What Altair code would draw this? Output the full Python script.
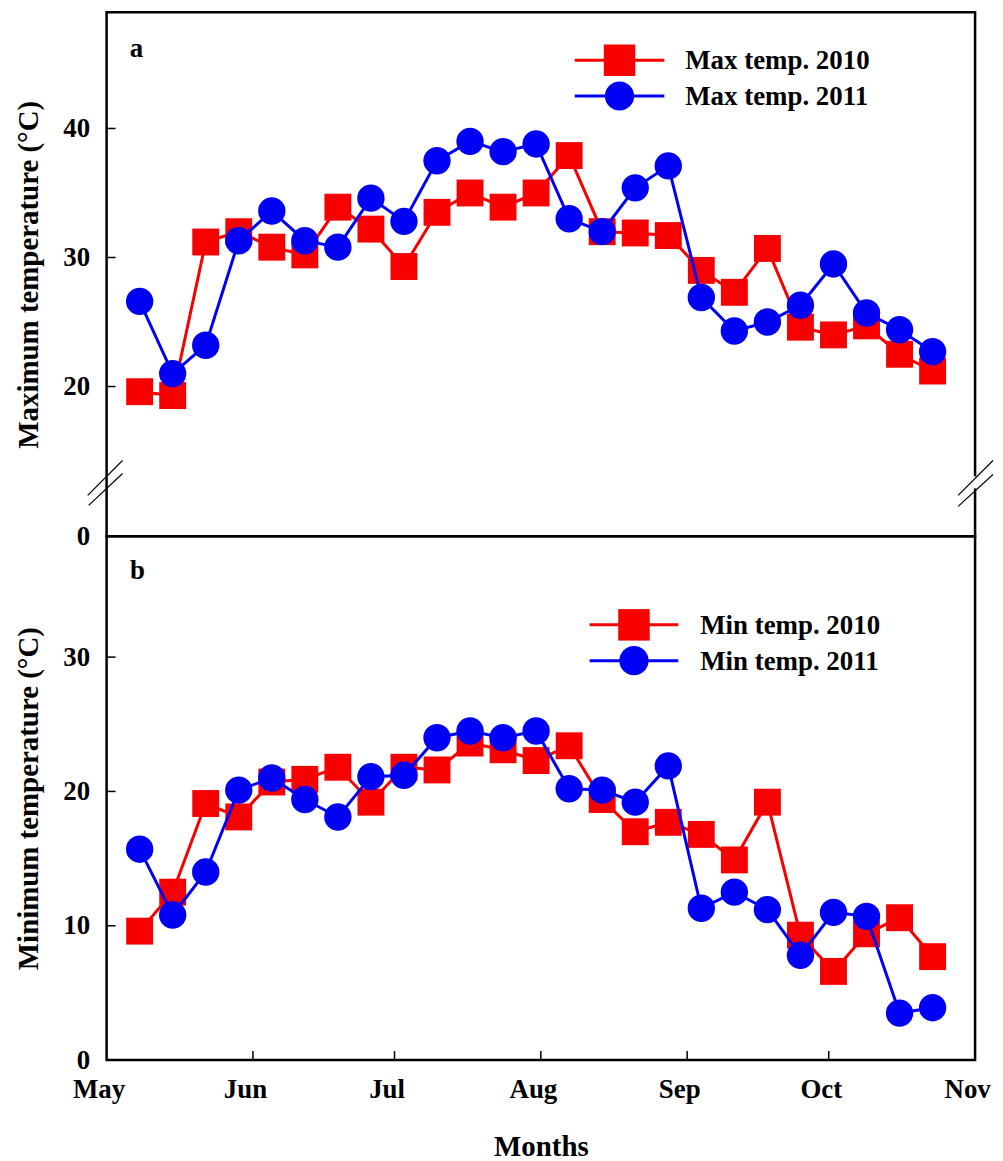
import json
import altair as alt
import pandas as pd

# ---------------- data ----------------
days = [7, 14, 21, 28, 35, 42, 49, 56, 63, 70, 77, 84, 91, 98, 105, 112,
        119, 126, 133, 140, 147, 154, 161, 168, 175]  # days after 1 May

max_2010 = [19.6, 19.3, 31.2, 32.0, 30.8, 30.2, 33.9, 32.2, 29.3, 33.5, 35.0, 33.9, 35.0,
            37.9, 32.0, 31.9, 31.7, 29.0, 27.3, 30.7, 24.6, 24.0, 24.7, 22.5, 21.2]
max_2011 = [26.6, 21.0, 23.2, 31.3, 33.6, 31.3, 30.8, 34.6, 32.8, 37.5, 39.0, 38.2, 38.8,
            33.0, 32.0, 35.4, 37.1, 26.9, 24.3, 25.0, 26.3, 29.5, 25.7, 24.4, 22.7]
min_2010 = [9.6, 12.5, 19.1, 18.1, 20.7, 20.9, 21.8, 19.2, 21.8, 21.6, 23.6, 23.1, 22.3,
            23.4, 19.4, 17.0, 17.7, 16.8, 14.9, 19.2, 9.3, 6.6, 9.4, 10.6, 7.7]
min_2011 = [15.7, 10.8, 14.0, 20.1, 21.0, 19.4, 18.1, 21.1, 21.2, 24.0, 24.5, 24.0, 24.5,
            20.2, 20.1, 19.2, 21.9, 11.3, 12.5, 11.2, 7.8, 11.0, 10.7, 3.5, 3.9]

month_days = [0, 31, 61, 92, 123, 153, 184]
month_labels = ["May", "Jun", "Jul", "Aug", "Sep", "Oct", "Nov"]

top_ticks = [20, 30, 40]
bottom_ticks = [10, 20, 30]

top_legend = ["Max temp. 2010", "Max temp. 2011"]
bottom_legend = ["Min temp. 2010", "Min temp. 2011"]
panel_labels = ["a", "b"]
x_title = "Months"
top_y_title = "Maximum temperature (°C)"
bottom_y_title = "Minimum temperature (°C)"

# ---------------- styling ----------------
RED = "#f80000"
BLUE = "#0000f5"
FONT = "Liberation Serif"
W = 872
H_TOP = 526
H_BOT = 526
SQ = 729
CI = 755

month_expr = "{}[indexof({}, datum.value)]".format(json.dumps(month_labels), json.dumps(month_days))

one = pd.DataFrame({"k": [0]})


def series_layers(yvals, x_enc, y_enc):
    d10 = pd.DataFrame({"day": days, "v": yvals[0]})
    d11 = pd.DataFrame({"day": days, "v": yvals[1]})
    l10 = alt.Chart(d10).mark_line(color=RED, strokeWidth=3).encode(x=x_enc, y=y_enc)
    p10 = alt.Chart(d10).mark_point(shape="square", filled=True, color=RED, opacity=1,
                                    size=SQ).encode(x=x_enc, y=y_enc)
    l11 = alt.Chart(d11).mark_line(color=BLUE, strokeWidth=3).encode(x=x_enc, y=y_enc)
    p11 = alt.Chart(d11).mark_point(shape="circle", filled=True, color=BLUE, opacity=1,
                                    size=CI).encode(x=x_enc, y=y_enc)
    return [l10, p10, l11, p11]


def legend_layers(labels, x0, x1, xt, y0, dy):
    out = []
    for i, (lab, col, shp, sz) in enumerate([(labels[0], RED, "square", 1000),
                                             (labels[1], BLUE, "circle", 860)]):
        yy = y0 + i * dy
        out.append(alt.Chart(one).mark_rule(color=col, strokeWidth=3).encode(
            x=alt.value(x0), x2=alt.value(x1), y=alt.value(yy)))
        out.append(alt.Chart(one).mark_point(shape=shp, filled=True, color=col, opacity=1,
                                             size=sz).encode(
            x=alt.value((x0 + x1) / 2), y=alt.value(yy)))
        out.append(alt.Chart(pd.DataFrame({"t": [lab]})).mark_text(
            align="left", baseline="middle", font=FONT, fontWeight="bold", fontSize=27,
            color="black").encode(x=alt.value(xt), y=alt.value(yy + 1), text="t:N"))
    return out


def ytick_layer(vals, y_enc_field):
    return alt.Chart(pd.DataFrame({"v": vals})).mark_rule(color="black", strokeWidth=1.5).encode(
        y=y_enc_field, x=alt.value(0), x2=alt.value(9))


def panel_label(lab, x, y):
    return alt.Chart(pd.DataFrame({"t": [lab]})).mark_text(
        font=FONT, fontWeight="bold", fontSize=27, color="black",
        align="center", baseline="middle").encode(x=alt.value(x), y=alt.value(y), text="t:N")


xscale = alt.Scale(domain=[0, 184], nice=False, zero=False)

# ---------------- top panel ----------------
y_top = alt.Y("v:Q", scale=alt.Scale(domain=[8.4, 49], nice=False, zero=False),
              axis=alt.Axis(values=[8.4] + top_ticks,
                            labelExpr="datum.value < 10 ? '0' : datum.label",
                            title=top_y_title, labelPadding=17, titlePadding=19))
x_top = alt.X("day:Q", scale=xscale, axis=None)

breaks = []
for (xa, ya, xb, yb) in [(-19, 485, 16, 450), (-18, 495, 16, 463),
                         (855, 485, 890, 450), (855, 496, 890, 464)]:
    breaks.append(alt.Chart(one).mark_rule(color="black", strokeWidth=1.2).encode(
        x=alt.value(xa), y=alt.value(ya), x2=alt.value(xb), y2=alt.value(yb)))
gap = alt.Chart(one).mark_rule(color="white", strokeWidth=5).encode(
    x=alt.value(W), y=alt.value(466), y2=alt.value(478))

top = alt.layer(
    *series_layers([max_2010, max_2011], x_top, y_top),
    ytick_layer(top_ticks, alt.Y("v:Q")),
    *legend_layers(top_legend, 470, 560, 581, 48, 36),
    panel_label(panel_labels[0], 30, 37),
    gap,
    *breaks,
).properties(width=W, height=H_TOP)

# ---------------- bottom panel ----------------
y_bot = alt.Y("v:Q", scale=alt.Scale(domain=[0, 39], nice=False, zero=False),
              axis=alt.Axis(values=[0] + bottom_ticks, title=bottom_y_title,
                            labelPadding=17, titlePadding=19))
x_bot = alt.X("day:Q", scale=xscale,
              axis=alt.Axis(values=month_days, labelExpr=month_expr, title=x_title,
                            labelOffset=-8, labelPadding=17, titlePadding=30,
                            labelFlush=False, labelOverlap=False, labelBound=False))

xticks = alt.Chart(pd.DataFrame({"day": month_days[1:-1]})).mark_rule(
    color="black", strokeWidth=1.5).encode(
    x=alt.X("day:Q"), y=alt.value(H_BOT), y2=alt.value(H_BOT - 9))

bottom = alt.layer(
    *series_layers([min_2010, min_2011], x_bot, y_bot),
    ytick_layer(bottom_ticks, alt.Y("v:Q")),
    xticks,
    *legend_layers(bottom_legend, 485, 574, 596, 89, 36),
    panel_label(panel_labels[1], 31, 35),
).properties(width=W, height=H_BOT)

chart = alt.vconcat(top, bottom, spacing=0, bounds="flush").properties(
    padding={"left": 5, "top": 0, "right": 0, "bottom": 0}
).configure_view(stroke="black", strokeWidth=2.5).configure_axis(
    labelFont=FONT, labelFontWeight="bold", labelFontSize=27, labelColor="black",
    titleFont=FONT, titleFontWeight="bold", titleFontSize=29, titleColor="black",
    grid=False, domain=False, ticks=False, tickSize=0, labelFlush=False,
    labelOverlap=False,
)

chart.save("out.html", embed_options={"renderer": "svg", "actions": False})
